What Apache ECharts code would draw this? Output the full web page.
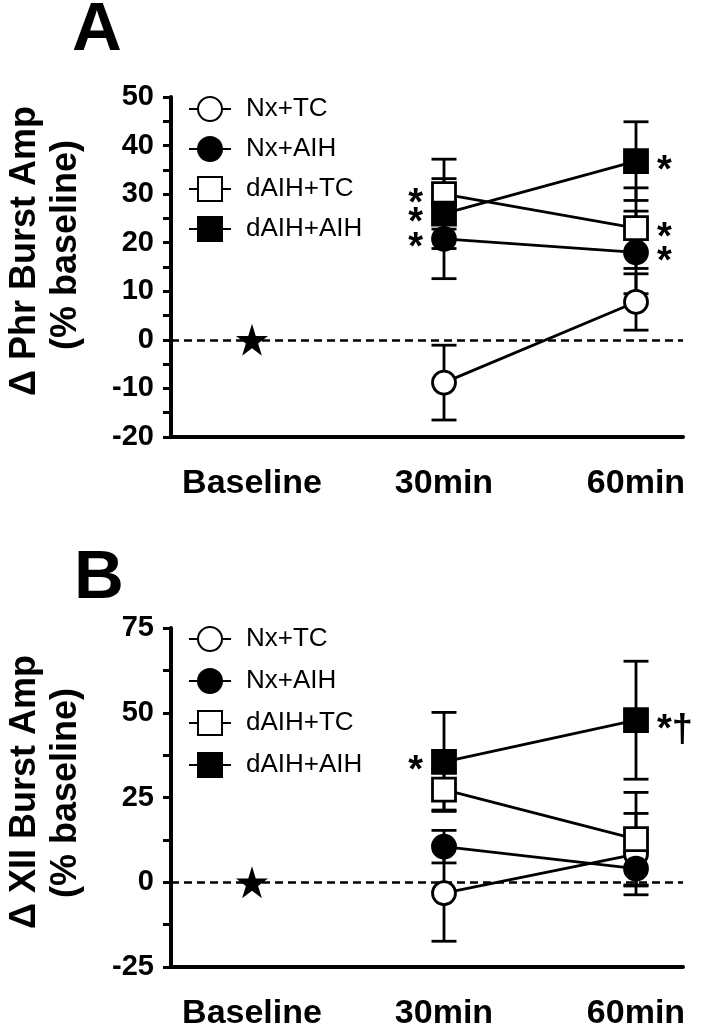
<!DOCTYPE html>
<html>
<head>
<meta charset="utf-8">
<script src="https://cdn.jsdelivr.net/npm/echarts@6/dist/echarts.min.js"></script>
<style>
html,body{margin:0;padding:0;background:#fff;}
#chart{width:702px;height:1031px;}
</style>
</head>
<body>
<div id="chart"></div>
<script>
// ---------- DATA ----------
const categories = ['Baseline', '30min', '60min'];
const groups = ['Nx+TC', 'Nx+AIH', 'dAIH+TC', 'dAIH+AIH'];

// Panel A: Δ Phr Burst Amp (% baseline)
const phrMean_NxTC    = [null, -8.8, 7.8];
const phrSem_NxTC     = [null, 7.7, 5.8];
const phrMean_NxAIH   = [null, 20.8, 18.0];
const phrSem_NxAIH    = [null, 8.2, 8.5];
const phrMean_dAIHTC  = [null, 30.0, 23.0];
const phrSem_dAIHTC   = [null, 7.2, 8.3];
const phrMean_dAIHAIH = [null, 26.0, 36.8];
const phrSem_dAIHAIH  = [null, 7.2, 8.1];
const phrSig_NxTC     = ['', '', ''];
const phrSig_NxAIH    = ['', '*', '*'];
const phrSig_dAIHTC   = ['', '*', '*'];
const phrSig_dAIHAIH  = ['', '*', '*'];
const phrTicks = [-20, -10, 0, 10, 20, 30, 40, 50];

// Panel B: Δ XII Burst Amp (% baseline)
const xiiMean_NxTC    = [null, -3.2, 8.3];
const xiiSem_NxTC     = [null, 14.2, 12.0];
const xiiMean_NxAIH   = [null, 10.5, 4.0];
const xiiSem_NxAIH    = [null, 4.8, 4.8];
const xiiMean_dAIHTC  = [null, 27.3, 12.7];
const xiiSem_dAIHTC   = [null, 6.0, 13.8];
const xiiMean_dAIHAIH = [null, 35.5, 47.8];
const xiiSem_dAIHAIH  = [null, 14.6, 17.4];
const xiiSig_NxTC     = ['', '', ''];
const xiiSig_NxAIH    = ['', '', ''];
const xiiSig_dAIHTC   = ['', '', ''];
const xiiSig_dAIHAIH  = ['', '*', '*†'];
const xiiTicks = [-25, 0, 25, 50, 75];

const baselineValue = 0; // all groups normalised to baseline (star)

// ---------- CHART ----------
const FONT = 'Liberation Sans, Arial, Helvetica, sans-serif';
const chart = echarts.init(document.getElementById('chart'), null, {renderer: 'canvas'});

const styles = [
  {symbol: 'circle', fill: '#ffffff'},
  {symbol: 'circle', fill: '#000000'},
  {symbol: 'rect', fill: '#ffffff'},
  {symbol: 'rect', fill: '#000000'}
];
const STAR = 'path://M50,0 L61.2,34.5 L97.6,34.5 L68.2,55.9 L79.4,90.5 L50,69.1 L20.6,90.5 L31.8,55.9 L2.4,34.5 L38.8,34.5 Z';
const LW = 2.8;

function errSeries(means, sems, gi) {
  const data = [];
  means.forEach((m, i) => { if (m != null) data.push([i, m - sems[i], m + sems[i]]); });
  return {
    type: 'custom', xAxisIndex: gi, yAxisIndex: gi, z: 2, silent: true,
    data: data,
    encode: {x: 0, y: [1, 2]},
    renderItem: function (params, api) {
      const lo = api.coord([api.value(0), api.value(1)]);
      const hi = api.coord([api.value(0), api.value(2)]);
      const hw = 12.5;
      const st = {stroke: '#000', lineWidth: LW};
      return {type: 'group', children: [
        {type: 'line', shape: {x1: hi[0], y1: hi[1], x2: lo[0], y2: lo[1]}, style: st},
        {type: 'line', shape: {x1: hi[0] - hw, y1: hi[1], x2: hi[0] + hw, y2: hi[1]}, style: st},
        {type: 'line', shape: {x1: lo[0] - hw, y1: lo[1], x2: lo[0] + hw, y2: lo[1]}, style: st}
      ]};
    }
  };
}

function lineSeries(name, means, sig, gi, k) {
  const data = [];
  means.forEach((m, i) => {
    if (m == null) return;
    const item = {value: [i, m]};
    if (sig[i]) {
      item.label = {
        show: true, formatter: sig[i], position: i === 1 ? 'left' : 'right',
        distance: 8, fontSize: 38, fontWeight: 'bold', fontFamily: FONT, color: '#000',
        offset: [0, 10]
      };
    }
    data.push(item);
  });
  return {
    name: name, type: 'line', xAxisIndex: gi, yAxisIndex: gi, z: 3 + k,
    data: data, symbol: styles[k].symbol, symbolSize: 23,
    lineStyle: {color: '#000', width: LW},
    itemStyle: {color: styles[k].fill, borderColor: '#000', borderWidth: LW},
    label: {show: false},
    emphasis: {disabled: true}, animation: false
  };
}

function starSeries(gi) {
  return {
    type: 'scatter', xAxisIndex: gi, yAxisIndex: gi, z: 10,
    data: [[0, baselineValue]], symbol: STAR, symbolSize: 32,
    itemStyle: {color: '#000', opacity: 1}, silent: true,
    markLine: {
      silent: true, symbol: 'none', label: {show: false}, z: 1,
      lineStyle: {color: '#000', width: 2.6, type: [8, 5], opacity: 1},
      data: [{yAxis: 0}]
    }
  };
}

const panels = [
  {means: [phrMean_NxTC, phrMean_NxAIH, phrMean_dAIHTC, phrMean_dAIHAIH],
   sems: [phrSem_NxTC, phrSem_NxAIH, phrSem_dAIHTC, phrSem_dAIHAIH],
   sigs: [phrSig_NxTC, phrSig_NxAIH, phrSig_dAIHTC, phrSig_dAIHAIH],
   ticks: phrTicks},
  {means: [xiiMean_NxTC, xiiMean_NxAIH, xiiMean_dAIHTC, xiiMean_dAIHAIH],
   sems: [xiiSem_NxTC, xiiSem_NxAIH, xiiSem_dAIHTC, xiiSem_dAIHAIH],
   sigs: [xiiSig_NxTC, xiiSig_NxAIH, xiiSig_dAIHTC, xiiSig_dAIHAIH],
   ticks: xiiTicks}
];

const grids = [
  {left: 171, top: 97, width: 512, height: 340},
  {left: 171, top: 628, width: 512, height: 339}
];

const xAxes = grids.map((g, gi) => ({
  type: 'value', gridIndex: gi, min: -0.4219, max: 2.2448,
  splitLine: {show: false},
  axisLine: {show: true, onZero: false, lineStyle: {color: '#000', width: 4}},
  axisTick: {show: false},
  axisLabel: {
    customValues: [0, 1, 2],
    formatter: v => categories[Math.round(v)],
    fontSize: 34, fontWeight: 'bold', fontFamily: FONT, color: '#000', margin: 30
  }
}));

const yAxes = panels.map((p, gi) => ({
  type: 'value', gridIndex: gi,
  min: p.ticks[0], max: p.ticks[p.ticks.length - 1],
  interval: p.ticks[1] - p.ticks[0],
  splitLine: {show: false},
  axisLine: {show: true, onZero: false, lineStyle: {color: '#000', width: 4}},
  axisTick: {show: true, length: 8, lineStyle: {color: '#000', width: 3}},
  minorTick: {show: true, splitNumber: 2, length: 8, lineStyle: {color: '#000', width: 3}},
  axisLabel: {fontSize: 29, fontWeight: 'bold', fontFamily: FONT, color: '#000', margin: 17}
}));

const series = [];
panels.forEach((p, gi) => {
  groups.forEach((g, k) => series.push(errSeries(p.means[k], p.sems[k], gi)));
  series.push(starSeries(gi));
  groups.forEach((g, k) => series.push(lineSeries(g, p.means[k], p.sigs[k], gi, k)));
});

const legendCfg = [{top: 89, gap: 10}, {top: 619, gap: 12}];
const legends = legendCfg.map(c => ({
  data: groups, orient: 'vertical', left: 183, top: c.top,
  itemGap: c.gap, itemWidth: 42, itemHeight: 30, selectedMode: false,
  textStyle: {fontSize: 26, fontFamily: FONT, color: '#000', padding: [0, 0, 0, 10], lineHeight: 30}
}));

function yName(lines, cx, cys) {
  return lines.map((txt, i) => ({
    type: 'text', x: cx + i * 41, y: cys[i], rotation: Math.PI / 2,
    style: {text: txt, fontSize: 36, fontWeight: 'bold', fontFamily: FONT, fill: '#000',
            align: 'center', verticalAlign: 'middle'}
  }));
}

const graphic = [
  {type: 'text', x: 97, y: 31, style: {text: 'A', fontSize: 69, fontWeight: 'bold', fontFamily: FONT, fill: '#000', align: 'center', verticalAlign: 'middle'}},
  {type: 'text', x: 99, y: 579, style: {text: 'B', fontSize: 69, fontWeight: 'bold', fontFamily: FONT, fill: '#000', align: 'center', verticalAlign: 'middle'}}
].concat(yName(['Δ Phr Burst Amp', '(% baseline)'], 25, [251, 245]))
 .concat(yName(['Δ XII Burst Amp', '(% baseline)'], 25, [792, 793]));

chart.setOption({
  animation: false,
  backgroundColor: '#fff',
  grid: grids,
  xAxis: xAxes,
  yAxis: yAxes,
  legend: legends,
  graphic: graphic,
  series: series
});
</script>
</body>
</html>
